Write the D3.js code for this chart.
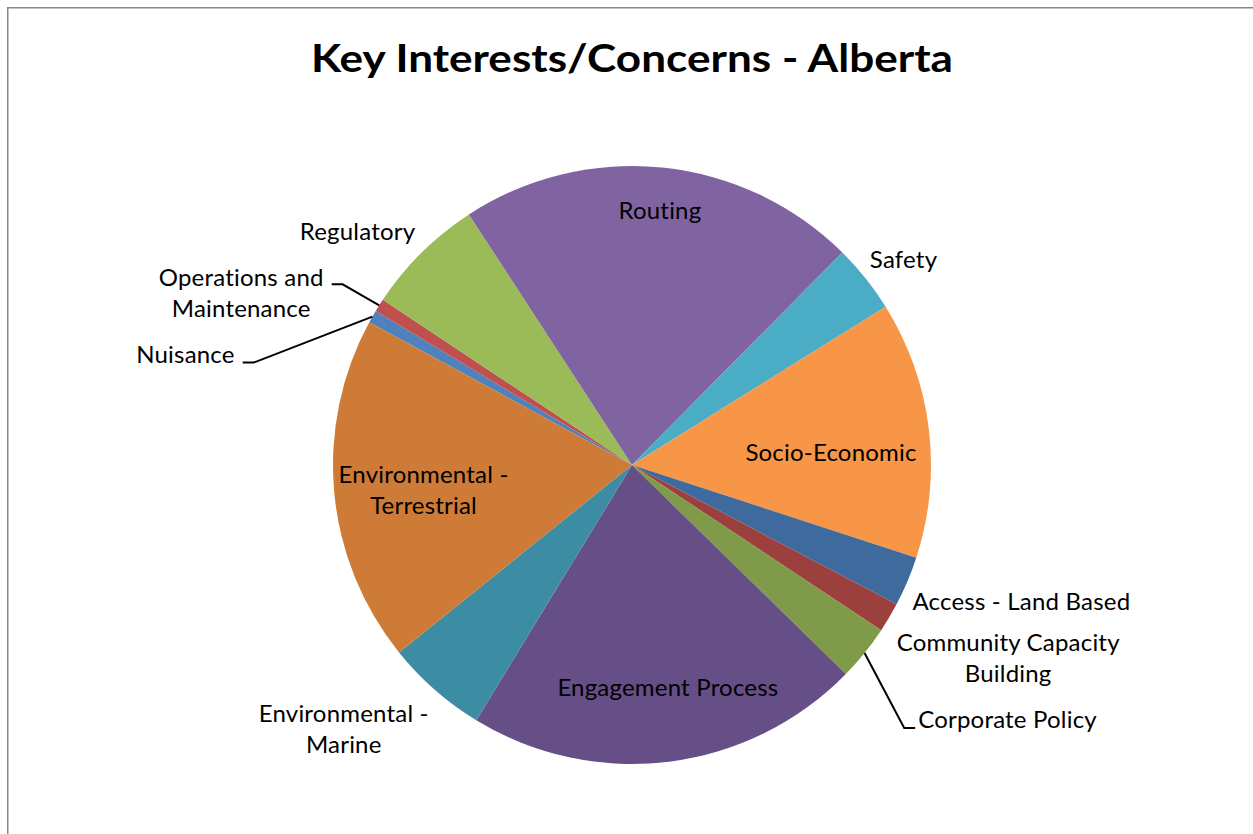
<!DOCTYPE html>
<html>
<head>
<meta charset="utf-8">
<script src="https://cdn.jsdelivr.net/npm/d3@7"></script>
<style>
  html, body { margin: 0; padding: 0; background: #fff; }
  svg { display: block; }
</style>
</head>
<body>
<svg id="chart" width="1253" height="834"></svg>
<script>
// Slices in drawing order (clockwise from the first slice)
const categories = [
  "Nuisance", "Operations and Maintenance", "Regulatory", "Routing", "Safety",
  "Socio-Economic", "Access - Land Based", "Community Capacity Building",
  "Corporate Policy", "Engagement Process", "Environmental - Marine",
  "Environmental - Terrestrial"
];
// Share of all interests/concerns raised, percent
const shares = [0.7, 0.7, 6.5, 21.6, 3.7, 13.9, 2.7, 1.6, 3.0, 21.4, 5.5, 18.7];
const colors = [
  "#4F81BD", "#C0504D", "#9BBB59", "#8064A2", "#4BACC6", "#F79646",
  "#3F6A9D", "#9C403D", "#7F9A48", "#664E86", "#3C8DA4", "#CD7B37"
];
// Wrapped label text for each slice
const labelLines = [
  ["Nuisance"], ["Operations and", "Maintenance"], ["Regulatory"], ["Routing"], ["Safety"],
  ["Socio-Economic"], ["Access - Land Based"], ["Community Capacity", "Building"],
  ["Corporate Policy"], ["Engagement Process"], ["Environmental -", "Marine"],
  ["Environmental -", "Terrestrial"]
];

// Label placement: radius factor along the slice's mid-angle plus a nudge;
// leader = side on which the connector leaves the label (+1 right, -1 left)
const labelPlacement = [
  { k: 1, dx: -187, dy: 38, leader: { side: 1, dy: 8 } },
  { k: 1, dx: -138, dy: -12, leader: { side: 1, dy: -9 } },
  { k: 1, dx: -64, dy: -21 },
  { k: 0.856, dx: 2, dy: 0 },
  { k: 1, dx: 38, dy: -19 },
  { k: 0.62, dx: 15, dy: 10 },
  { k: 1, dx: 114, dy: 20 },
  { k: 1, dx: 119, dy: 41 },
  { k: 1, dx: 143, dy: 67, leader: { side: -1, dy: 8 } },
  { k: 0.75, dx: 8, dy: 0 },
  { k: 1, dx: -91, dy: 39 },
  { k: 0.7, dx: 0, dy: 6 }
];

const W = 1253, H = 834;
const cx = 632, cy = 465, R = 299;
const startDeg = -61.5;
const fontFamily = "Lato, 'Open Sans', sans-serif";
const labelSize = 24, lineGap = 31;

const svg = d3.select("#chart");

// Chart area frame
svg.append("path")
  .attr("d", `M7.75,${H} V7.75 H${W}`)
  .attr("fill", "none")
  .attr("stroke", "#868686")
  .attr("stroke-width", 1.5);

// Title
svg.append("text")
  .attr("x", cx)
  .attr("y", 72)
  .attr("text-anchor", "middle")
  .attr("font-family", fontFamily)
  .attr("font-weight", 700)
  .attr("font-size", 39)
  .attr("textLength", 642)
  .attr("lengthAdjust", "spacingAndGlyphs")
  .attr("fill", "#000")
  .text("Key Interests/Concerns - Alberta");

const data = categories.map((c, i) => ({ category: c, value: shares[i], i }));
const start = startDeg * Math.PI / 180;
const pie = d3.pie().value(d => d.value).sort(null)
  .startAngle(start).endAngle(start + 2 * Math.PI);
const arcs = pie(data);
const arc = d3.arc().innerRadius(0).outerRadius(R);

const g = svg.append("g").attr("transform", `translate(${cx},${cy})`);

g.selectAll("path.slice")
  .data(arcs)
  .join("path")
  .attr("class", "slice")
  .attr("d", arc)
  .attr("fill", d => colors[d.data.i]);

const polar = (a, r) => [r * Math.sin(a), -r * Math.cos(a)];

const labels = g.append("g").attr("class", "labels");

arcs.forEach(a => {
  const i = a.data.i;
  const p = labelPlacement[i];
  const mid = (a.startAngle + a.endAngle) / 2;
  const [ax, ay] = polar(mid, R * p.k);
  const x = ax + p.dx, y = ay + p.dy;
  const lines = labelLines[i];
  const top = y - (lines.length - 1) * lineGap / 2;

  const t = labels.append("text")
    .attr("font-family", fontFamily)
    .attr("font-size", labelSize)
    .attr("letter-spacing", 0.2)
    .attr("fill", "#000")
    .attr("text-anchor", "middle");
  lines.forEach((ln, j) => {
    t.append("tspan")
      .attr("x", x)
      .attr("y", top + j * lineGap)
      .attr("dy", "0.35em")
      .text(ln);
  });

  if (p.leader) {
    const bb = t.node().getBBox();
    const ex = p.leader.side > 0 ? bb.x + bb.width + 8 : bb.x - 3;
    const ly = y + p.leader.dy;
    const bend = ex + p.leader.side * 11;
    const [tx, ty] = polar(mid, R);
    labels.append("path")
      .attr("d", `M${ex},${ly} H${bend} L${tx},${ty}`)
      .attr("fill", "none")
      .attr("stroke", "#000")
      .attr("stroke-width", 2);
  }
});
</script>
</body>
</html>
